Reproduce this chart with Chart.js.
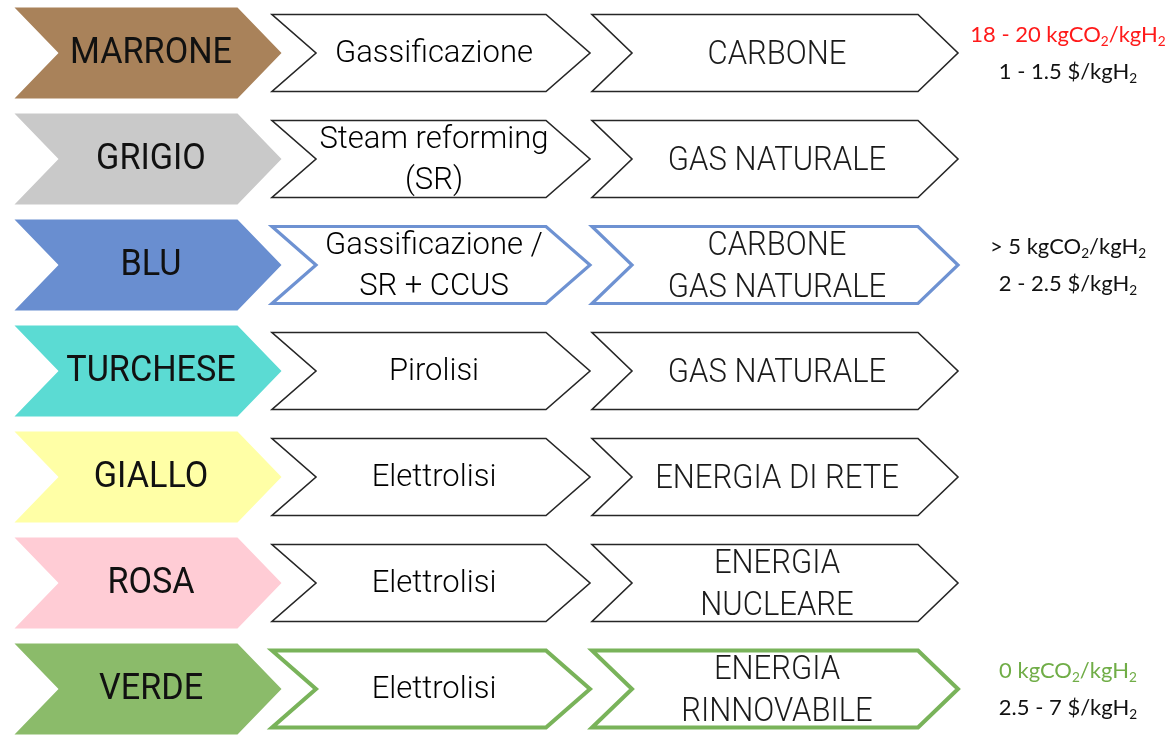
<!DOCTYPE html>
<html><head><meta charset="utf-8">
<script src="https://cdn.jsdelivr.net/npm/chart.js@4.4.0/dist/chart.umd.min.js"></script>
<style>html,body{margin:0;padding:0;background:#fff}#wrap{width:1171px;height:735px}</style>
</head><body><div id="wrap"><canvas id="c"></canvas></div>
<script>
// ---- data ----
const categories = ["MARRONE","GRIGIO","BLU","TURCHESE","GIALLO","ROSA","VERDE"];
const processes = ["Gassificazione","Steam reforming\n(SR)","Gassificazione /\nSR + CCUS","Pirolisi","Elettrolisi","Elettrolisi","Elettrolisi"];
const sources = ["CARBONE","GAS NATURALE","CARBONE\nGAS NATURALE","GAS NATURALE","ENERGIA DI RETE","ENERGIA\nNUCLEARE","ENERGIA\nRINNOVABILE"];
const emissions = ["18 - 20 kgCO₂/kgH₂","","> 5 kgCO₂/kgH₂","","","","0 kgCO₂/kgH₂"];
const costs = ["1 - 1.5 $/kgH₂","","2 - 2.5 $/kgH₂","","","","2.5 - 7 $/kgH₂"];

// ---- styles ----
const fillColors = ["#A9825A","#C9C9C9","#698ED0","#5BDBD3","#FFFFA6","#FFCCD5","#8BBB6A"];
const borderColors = ["#262626","#262626","#6E92D2","#262626","#262626","#262626","#79B35A"];
const borderWidths = [1.6,1.6,3.2,1.6,1.6,1.6,4];
const emissionColors = ["#FF1A1A","#111","#111","#111","#111","#111","#70AD47"];
const colAnchor = {label:148, proc:431, src:775, note:1068};

const rows = categories.map((_, i) => i);
const mk = (x) => rows.map(i => ({x: x, y: i}));

function chevron(ctx, cx, cy, w, h, d) {
  const l = cx - w/2, r = cx + w/2, t = cy - h/2, b = cy + h/2;
  ctx.beginPath();
  ctx.moveTo(l, t); ctx.lineTo(r - d, t); ctx.lineTo(r, cy);
  ctx.lineTo(r - d, b); ctx.lineTo(l, b); ctx.lineTo(l + d, cy); ctx.closePath();
}
function sText(ctx, t, x, y, sx) {
  ctx.save(); ctx.translate(x, y); ctx.scale(sx, 1); ctx.fillText(t, 0, 0); ctx.restore();
}
function multi(ctx, txt, x, y, lh, sx) {
  const lines = txt.split("\n");
  lines.forEach((ln, k) => sText(ctx, ln, x, y + (k - (lines.length-1)/2) * lh, sx));
}
function rich(ctx, txt, x, y, size, color) {
  const parts = [];
  for (const ch of txt) {
    const sub = ch === "₂";
    const c = sub ? "2" : ch;
    if (parts.length && parts[parts.length-1].sub === sub) parts[parts.length-1].t += c;
    else parts.push({t: c, sub});
  }
  const f = s => s + "px Lato, 'Open Sans', sans-serif";
  let total = 0;
  parts.forEach(p => { ctx.font = f(p.sub ? size*0.62 : size); p.w = ctx.measureText(p.t).width; total += p.w; });
  let cx = x - total/2;
  ctx.fillStyle = color; ctx.textAlign = "left"; ctx.textBaseline = "middle";
  parts.forEach(p => { ctx.font = f(p.sub ? size*0.62 : size); ctx.fillText(p.t, cx, y + (p.sub ? size*0.28 : 0)); cx += p.w; });
}

const chevPlugin = {
  id: "chev",
  afterDatasetsDraw(chart) {
    const ctx = chart.ctx;
    const m0 = chart.getDatasetMeta(0).data, m1 = chart.getDatasetMeta(1).data,
          m2 = chart.getDatasetMeta(2).data, m3 = chart.getDatasetMeta(3).data;
    ctx.save();
    rows.forEach(i => {
      // colour chevron
      const p0 = m0[i];
      chevron(ctx, p0.x, p0.y, 267, 91, 44);
      ctx.fillStyle = fillColors[i]; ctx.fill();
      ctx.fillStyle = "#111"; ctx.textAlign = "center"; ctx.textBaseline = "middle";
      ctx.font = "36px Roboto, sans-serif";
      sText(ctx, categories[i], p0.x + 3, p0.y + 1, 0.95);
      // process chevron
      const p1 = m1[i];
      chevron(ctx, p1.x, p1.y, 318, 77, 44);
      ctx.fillStyle = "#fff"; ctx.fill();
      ctx.lineJoin = "miter"; ctx.strokeStyle = borderColors[i]; ctx.lineWidth = borderWidths[i]; ctx.stroke();
      ctx.fillStyle = "#000"; ctx.font = "300 31px Roboto, sans-serif";
      multi(ctx, processes[i], p1.x + 3, p1.y + 1.5, 41, 1);
      // source chevron
      const p2 = m2[i];
      chevron(ctx, p2.x, p2.y, 366, 77, 40);
      ctx.fillStyle = "#fff"; ctx.fill();
      ctx.strokeStyle = borderColors[i]; ctx.lineWidth = borderWidths[i]; ctx.stroke();
      ctx.fillStyle = "#1a1a1a"; ctx.font = "300 33px Roboto, sans-serif";
      multi(ctx, sources[i], p2.x + 2, p2.y + 2.5, 42, 0.94);
      // notes
      const p3 = m3[i];
      if (emissions[i]) rich(ctx, emissions[i], p3.x, p3.y - 18, 22, emissionColors[i]);
      if (costs[i]) rich(ctx, costs[i], p3.x, p3.y + 19, 22, "#111");
    });
    ctx.restore();
  }
};

new Chart(document.getElementById("c"), {
  type: "scatter",
  data: { datasets: [
    {label: "colore", data: mk(colAnchor.label), pointRadius: 0},
    {label: "processo", data: mk(colAnchor.proc), pointRadius: 0},
    {label: "fonte", data: mk(colAnchor.src), pointRadius: 0},
    {label: "note", data: mk(colAnchor.note), pointRadius: 0}
  ]},
  options: {
    responsive: true, maintainAspectRatio: false, animation: false,
    layout: {padding: 0},
    events: [],
    plugins: {legend: {display: false}, tooltip: {enabled: false}},
    scales: {
      x: {type: "linear", min: 0, max: 1171, display: false},
      y: {type: "linear", min: -0.5, max: 6.434, reverse: true, display: false}
    }
  },
  plugins: [chevPlugin]
});
</script></body></html>
